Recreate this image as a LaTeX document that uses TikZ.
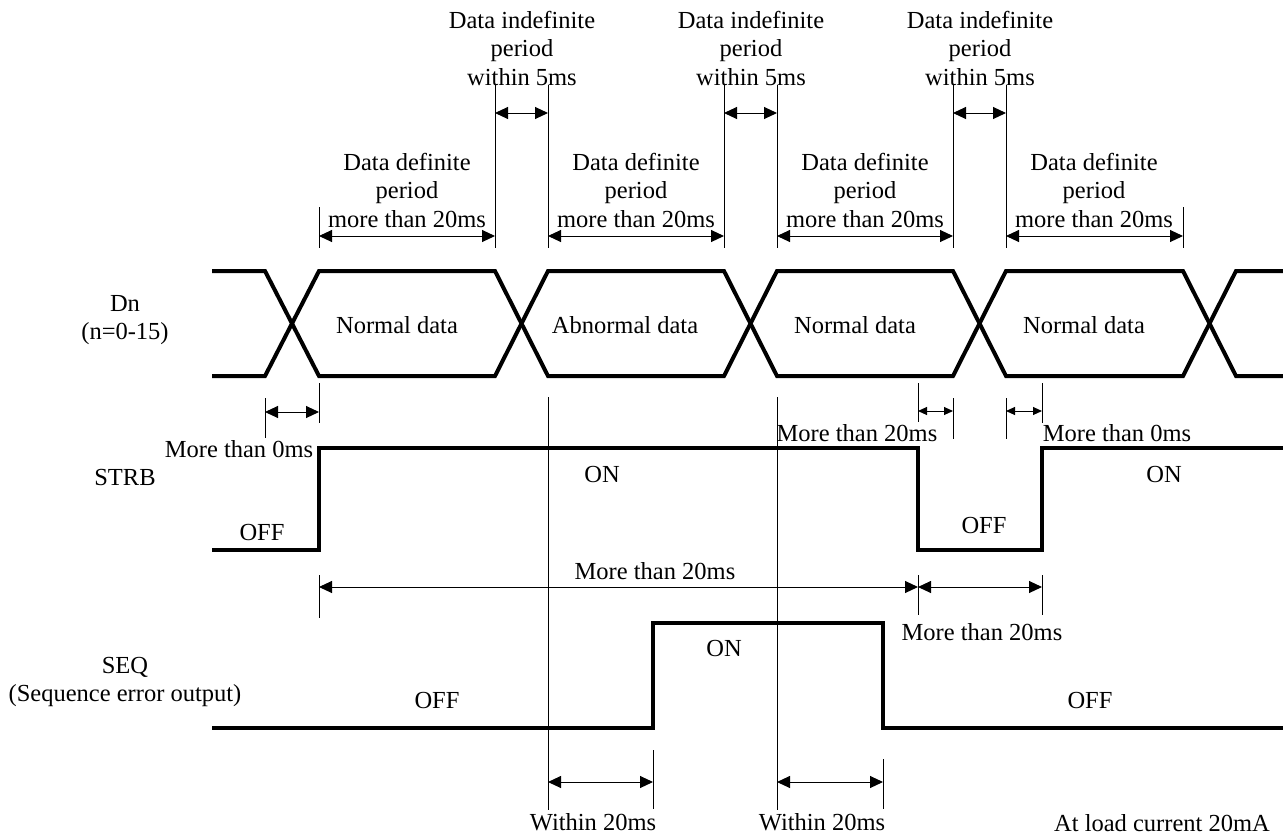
\documentclass[tikz,border=0pt]{standalone}
\usepackage{fontspec}
\setmainfont{Liberation Serif}
\usetikzlibrary{arrows.meta}
\begin{document}
\begin{tikzpicture}[x=1pt,y=-1pt,
  sig/.style={line width=4pt,line join=miter},
  thin/.style={line width=1pt},
  dim/.style={line width=1pt,{Triangle[length=13pt,width=12pt]}-{Triangle[length=13pt,width=12pt]}},
  sdim/.style={line width=1pt,{Triangle[length=9pt,width=8pt]}-{Triangle[length=9pt,width=8pt]}},
  lbl/.style={inner sep=0pt,align=center,font=\fontsize{24.5}{28.5}\selectfont}]
\useasboundingbox (0,0) rectangle (1283,836);
% named time coordinates
\foreach \n/\x in {a/265,b/319,c/495,d/548,e/653,f/724,g/777,h/883,i/918,j/953,k/1006,l/1042,m/1183}
  \coordinate (t\n) at (\x,0);
% --- extension lines ---
\foreach \n in {c,d,f,g,j,k} \draw[thin] (t\n |- 0,85) coordinate (u\n) -- (t\n |- 0,248);
\foreach \n in {b,m} \draw[thin] (t\n |- 0,207) -- (t\n |- 0,248);
\draw[thin] (ta |- 0,398) -- (ta |- 0,438);
\draw[thin] (tb |- 0,383) -- (tb |- 0,423);
\draw[thin] (ti |- 0,383) -- (ti |- 0,422);
\draw[thin] (tl |- 0,383) -- (tl |- 0,423);
\draw[thin] (tj |- 0,398) -- (tj |- 0,439);
\draw[thin] (tk |- 0,398) -- (tk |- 0,439);
\draw[thin] (td |- 0,397) -- (td |- 0,810);
\draw[thin] (tg |- 0,397) -- (tg |- 0,810);
\draw[thin] (tb |- 0,575) -- (tb |- 0,618);
\draw[thin] (ti |- 0,575) -- (ti |- 0,615);
\draw[thin] (tl |- 0,575) -- (tl |- 0,615);
\draw[thin] (te |- 0,750) -- (te |- 0,809);
\draw[thin] (th |- 0,759) -- (th |- 0,809);
% --- dimension arrows ---
\foreach \p/\q in {b/c,d/f,g/j,k/m} \draw[dim] (t\p |- 0,236) -- (t\q |- 0,236);
\foreach \p/\q in {c/d,f/g,j/k} \draw[dim] (t\p |- 0,113) -- (t\q |- 0,113);
\draw[dim] (ta |- 0,412) -- (tb |- 0,412);
\draw[sdim] (ti |- 0,411) -- (tj |- 0,411);
\draw[sdim] (tk |- 0,411) -- (tl |- 0,411);
\draw[dim] (tb |- 0,587) -- (ti |- 0,587);
\draw[dim] (ti |- 0,587) -- (tl |- 0,587);
\draw[dim] (td |- 0,782) -- (te |- 0,782);
\draw[dim] (tg |- 0,782) -- (th |- 0,782);
% --- signals ---
\draw[sig] (212,271) -- (265,271) -- (319,376) -- (495,376) -- (548,271) -- (724,271) -- (777,376) -- (953,376) -- (1006,271) -- (1183,271) -- (1236,376) -- (1283,376);
\draw[sig] (212,376) -- (265,376) -- (319,271) -- (495,271) -- (548,376) -- (724,376) -- (777,271) -- (953,271) -- (1006,376) -- (1183,376) -- (1236,271) -- (1283,271);
\draw[sig] (212,550) -- (319,550) -- (319,448) -- (918,448) -- (918,550) -- (1042,550) -- (1042,448) -- (1283,448);
\draw[sig] (212,728) -- (653,728) -- (653,623) -- (883,623) -- (883,728) -- (1283,728);
% --- texts ---
\node[lbl] (ind1) at (522,48) {Data indefinite\\period\\within 5ms};
\node[lbl] (ind2) at (751,48) {Data indefinite\\period\\within 5ms};
\node[lbl] (ind3) at (980,48) {Data indefinite\\period\\within 5ms};
\node[lbl] (def1) at (407,190) {Data definite\\period\\more than 20ms};
\node[lbl] (def2) at (636,190) {Data definite\\period\\more than 20ms};
\node[lbl] (def3) at (865,190) {Data definite\\period\\more than 20ms};
\node[lbl] (def4) at (1094,190) {Data definite\\period\\more than 20ms};
\node[lbl] (nd1) at (397,325) {Normal data};
\node[lbl] (ab) at (625,325) {Abnormal data};
\node[lbl] (nd2) at (855,325) {Normal data};
\node[lbl] (nd3) at (1084,325) {Normal data};
\node[lbl] (dn) at (125,320) {Dn\\(n=0-15)};
\node[lbl] (strb) at (125,478) {STRB};
\node[lbl] (seq) at (125,682) {SEQ\\(Sequence error output)};
\node[lbl] (m0a) at (239,449) {More than 0ms};
\node[lbl] (on1) at (602,475) {ON};
\node[lbl] (on2) at (1164,475) {ON};
\node[lbl] (off1) at (262,533) {OFF};
\node[lbl] (off2) at (984,526) {OFF};
\node[lbl] (m20a) at (857,433) {More than 20ms};
\node[lbl] (m0b) at (1117,433) {More than 0ms};
\node[lbl] (m20b) at (655,571) {More than 20ms};
\node[lbl] (m20c) at (982,632) {More than 20ms};
\node[lbl] (on3) at (724,648) {ON};
\node[lbl] (off3) at (437,700) {OFF};
\node[lbl] (off4) at (1090,700) {OFF};
\node[lbl] (w1) at (593,822) {Within 20ms};
\node[lbl] (w2) at (822,822) {Within 20ms};
\node[lbl] (load) at (1162,823) {At load current 20mA};
\end{tikzpicture}
\end{document}
